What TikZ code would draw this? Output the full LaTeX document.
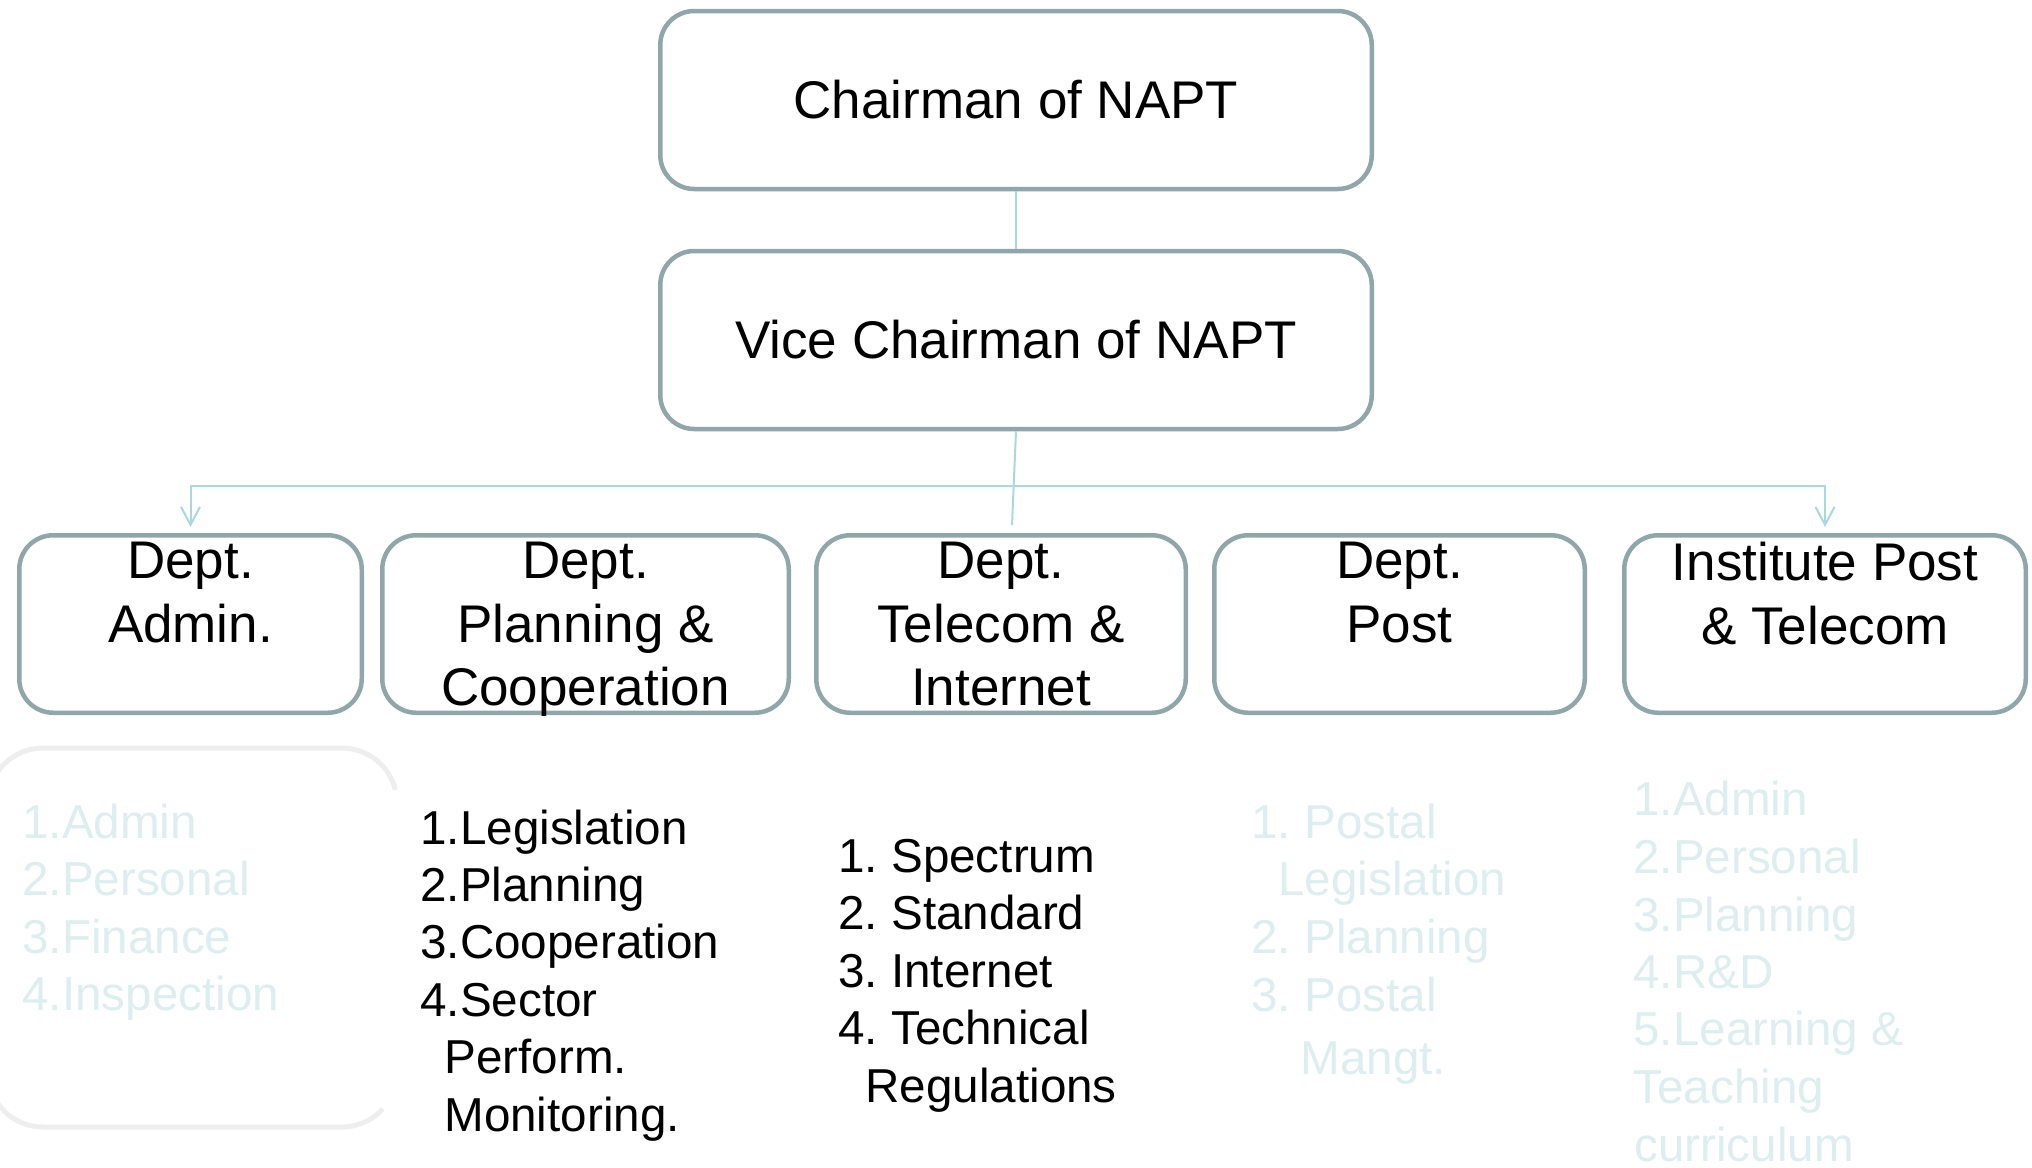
\documentclass[tikz,border=0pt]{standalone}
\usepackage{fontspec}
\setmainfont{Liberation Sans}
\usetikzlibrary{arrows.meta}
\definecolor{boxline}{HTML}{8FA7AA}
\definecolor{connline}{HTML}{A9D8DF}
\definecolor{faintx}{HTML}{DCEEF0}
\definecolor{faintbox}{HTML}{EEEEEE}
\begin{document}
\frenchspacing
\begin{tikzpicture}[x=0.5pt,y=-0.5pt,
  orgbox/.style={draw=boxline, line width=2.25pt, rounded corners=17pt, inner sep=0pt, fill=white, font=\fontsize{26.5pt}{31.75pt}\selectfont},
  conn/.style={draw=connline, line width=1pt},
  tipend/.style={-{Straight Barb[length=9pt,width=9.5pt]}},
  boxtxt/.style={font=\fontsize{26.5pt}{31.75pt}\selectfont, inner sep=0pt, align=center, anchor=north},
  listtxt/.style={font=\fontsize{23.8pt}{28.75pt}\selectfont\frenchspacing, inner sep=0pt, anchor=base west},
  darktxt/.style={listtxt, text=black},
  fainttxt/.style={listtxt, text=faintx}]
\useasboundingbox (0,0) rectangle (2032,1167);
\clip (0,0) rectangle (2032,1167);

% faint background frame (lower left), open on the right side
\draw[draw=faintbox, line width=2.5pt]
  (395.4,790) arc[start angle=13.7, end angle=90, radius=27.5pt]
  -- (43,748) arc[start angle=90, end angle=180, radius=27.5pt]
  -- (-12,1072) arc[start angle=180, end angle=270, radius=27.5pt]
  -- (342,1127) arc[start angle=270, end angle=318, radius=27.5pt];

% top boxes
\node[orgbox, minimum width=355.75pt, minimum height=89pt] (chair) at (1016,100) {Chairman of NAPT};
\node[orgbox, minimum width=355.75pt, minimum height=89pt] (vice) at (1016,340) {Vice Chairman of NAPT};

% department boxes
\node[orgbox, minimum width=171.25pt, minimum height=88.75pt] (admin) at (190.5,624) {};
\node[orgbox, minimum width=203.25pt, minimum height=88.75pt] (plan) at (585.5,624) {};
\node[orgbox, minimum width=184.75pt, minimum height=88.75pt] (tele) at (1001,624) {};
\node[orgbox, minimum width=185.25pt, minimum height=88.75pt] (post) at (1399.5,624) {};
\node[orgbox, minimum width=200.75pt, minimum height=88.75pt] (inst) at (1825,624) {};

\node[boxtxt] (adminlbl) at (190.5,542) {Dept.\\Admin.};
\node[boxtxt] (planlbl) at (585.5,542) {Dept.\\Planning \&\\Cooperation};
\node[boxtxt] (telelbl) at (1001,542) {Dept.\\Telecom \&\\Internet};
\node[boxtxt] (postlbl) at (1399.5,542) {Dept.\\Post};
\node[boxtxt] (instlbl) at (1825,542) {Institute Post\\\& Telecom};

% connectors
\coordinate (hbar) at (1016,486);
\coordinate (teleend) at (1012,525);
\draw[conn] (chair.south) -- (vice.north);
\draw[conn] (vice.south) -- (teleend);
\draw[conn, tipend] (hbar) -| ([yshift=3pt]admin.north);
\draw[conn, tipend] (hbar) -| ([yshift=3pt]inst.north);

% Admin list (faint)
\node[fainttxt] (a1) at (22,838) {1.Admin};
\node[fainttxt] (a2) at (22,895) {2.Personal};
\node[fainttxt] (a3) at (22,953) {3.Finance};
\node[fainttxt] (a4) at (22,1010) {4.Inspection};

% Planning list
\node[darktxt] (p1) at (420,844) {1.Legislation};
\node[darktxt] (p2) at (420,901) {2.Planning};
\node[darktxt] (p3) at (420,958) {3.Cooperation};
\node[darktxt] (p4) at (420,1016) {4.Sector};
\node[darktxt] (p5) at (444,1073) {Perform.};
\node[darktxt] (p6) at (444,1131) {Monitoring.};

% Telecom list
\node[darktxt] (t1) at (838,872) {1. Spectrum};
\node[darktxt] (t2) at (838,929) {2. Standard};
\node[darktxt] (t3) at (838,987) {3. Internet};
\node[darktxt] (t4) at (838,1044) {4. Technical};
\node[darktxt] (t5) at (865,1102) {Regulations};

% Post list (faint)
\node[fainttxt] (s1) at (1251,838) {1. Postal};
\node[fainttxt] (s2) at (1278,895) {Legislation};
\node[fainttxt] (s3) at (1251,953) {2. Planning};
\node[fainttxt] (s4) at (1251,1011) {3. Postal};
\node[fainttxt] (s5) at (1300,1074) {Mangt.};

% Institute list (faint)
\node[fainttxt] (i1) at (1633,815) {1.Admin};
\node[fainttxt] (i2) at (1633,873) {2.Personal};
\node[fainttxt] (i3) at (1633,931) {3.Planning};
\node[fainttxt] (i4) at (1633,988) {4.R\&D};
\node[fainttxt] (i5) at (1633,1045) {5.Learning \&};
\node[fainttxt] (i6) at (1633,1103) {Teaching};
\node[fainttxt] (i7) at (1634,1161) {curriculum};
\end{tikzpicture}
\end{document}
